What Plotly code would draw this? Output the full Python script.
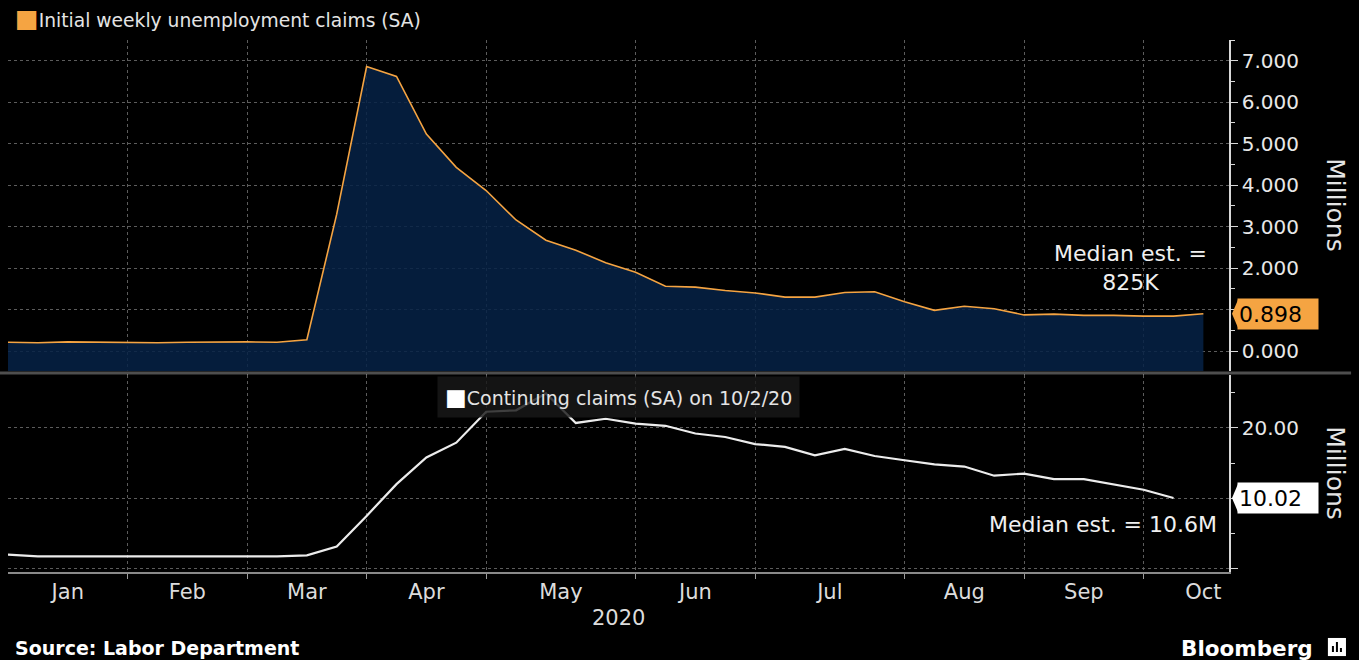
import pandas as pd
import plotly.graph_objects as go
from plotly.subplots import make_subplots

# Weekly observations, plotted on Fridays the way the terminal does
dates = pd.date_range("2020-01-03", periods=41, freq="7D")

# Initial weekly unemployment claims (SA), millions
initial_claims = [0.21, 0.20, 0.22, 0.21, 0.20, 0.20, 0.21, 0.22, 0.22, 0.21, 0.27,
                  3.30, 6.86, 6.62, 5.23, 4.43, 3.87, 3.16, 2.67, 2.43, 2.13,
                  1.90, 1.56, 1.54, 1.46, 1.40, 1.30, 1.30, 1.41, 1.43, 1.19,
                  0.98, 1.08, 1.02, 0.87, 0.89, 0.86, 0.86, 0.84, 0.84, 0.898]

# Continuing claims (SA), millions - one week behind
continuing_claims = [1.96, 1.73, 1.73, 1.73, 1.73, 1.73, 1.73, 1.73, 1.73, 1.73, 1.87,
                     3.13, 7.48, 12.0, 15.8, 17.9, 22.3, 22.5, 24.9, 20.7, 21.3,
                     20.6, 20.3, 19.2, 18.7, 17.7, 17.3, 16.1, 17.0, 16.0, 15.4,
                     14.8, 14.5, 13.2, 13.5, 12.7, 12.7, 11.9, 11.2, 10.02]

months = ["Jan", "Feb", "Mar", "Apr", "May", "Jun", "Jul", "Aug", "Sep", "Oct"]
year_label = "2020"
initial_name = "Initial weekly unemployment claims (SA)"
continuing_name = "Continuing claims (SA) on 10/2/20"
initial_note = "Median est. =<br>825K"
continuing_note = "Median est. = 10.6M"

ORANGE = "#f5a442"
GRID = "#5c5c5c"
AXIS = "#d8d8d8"
FONT = "DejaVu Sans"

# month boundaries = last observation of each month, labels sit between them
s = pd.Series(dates)
month_last = s.groupby(dates.to_period("M")).max().tolist()
bounds = [dates[0]] + month_last[:-1]
label_pos = [bounds[i] + (month_last[i] - bounds[i]) / 2 for i in range(len(months) - 1)]
label_pos.append(dates[-1])
x_range = [dates[0], dates[-1] + pd.Timedelta(days=6)]

top_range = [-0.48, 7.5]
bot_range = [-0.5, 27.5]
top_dom = [0.378, 1.0]
bot_dom = [0.0, 0.370]

fig = make_subplots(rows=2, cols=1, shared_xaxes=True, vertical_spacing=0.008)

# baseline so the area reaches the bottom of the panel
fig.add_trace(go.Scatter(x=dates, y=[top_range[0]] * len(dates), mode="lines",
                         line=dict(width=0), hoverinfo="skip", showlegend=False), row=1, col=1)
fig.add_trace(go.Scatter(x=dates, y=initial_claims, mode="lines", fill="tonexty",
                         fillcolor="rgba(6,34,70,0.86)", line=dict(color=ORANGE, width=1.6),
                         name=initial_name, showlegend=False), row=1, col=1)
fig.add_trace(go.Scatter(x=dates[:len(continuing_claims)], y=continuing_claims, mode="lines",
                         line=dict(color="#ececec", width=2.2),
                         name=continuing_name, showlegend=False), row=2, col=1)

fig.update_xaxes(range=x_range, tickmode="array", tickvals=label_pos, ticktext=months,
                 ticks="", showgrid=False, zeroline=False,
                 tickfont=dict(family=FONT, size=21, color="#dcdcdc"),
                 minor=dict(tickmode="array", tickvals=month_last[:-1], showgrid=True,
                            gridcolor=GRID, griddash="dot", gridwidth=1,
                            ticks="outside", ticklen=5, tickcolor="#9a9a9a"))
fig.update_xaxes(showticklabels=False, showline=False, row=1, col=1)
fig.update_xaxes(showline=True, linecolor="#8a8a8a", linewidth=1.5, row=2, col=1)

yax = dict(side="right", showline=True, linecolor=AXIS, linewidth=1.5, zeroline=False,
           ticks="outside", ticklen=7, tickcolor=AXIS, gridcolor=GRID, griddash="dot",
           tickfont=dict(family=FONT, size=20, color="#e8e8e8"), tickmode="array")

# tick labels hidden where the last-value tag sits
top_ticks = list(range(0, 8))
fig.update_yaxes(range=top_range, domain=top_dom, tickvals=top_ticks,
                 ticktext=["" if abs(v - initial_claims[-1]) < 0.5 else f"{v:.3f}" for v in top_ticks],
                 minor=dict(tick0=0, dtick=0.5, ticks="outside", ticklen=4, tickcolor=AXIS,
                            showgrid=False),
                 row=1, col=1, **yax)
bot_ticks = [0, 10, 20]
fig.update_yaxes(range=bot_range, domain=bot_dom, tickvals=bot_ticks,
                 ticktext=["" if v == 0 or abs(v - continuing_claims[-1]) < 3 else f"{v:.2f}"
                           for v in bot_ticks],
                 minor=dict(tick0=0, dtick=5, ticks="outside", ticklen=4, tickcolor=AXIS,
                            showgrid=False),
                 row=2, col=1, **yax)

annotations = [
    dict(text=f"<span style='color:{ORANGE};font-size:25px'>■</span>{initial_name}",
         xref="paper", yref="paper", x=0.004, y=1.04, xanchor="left", yanchor="middle",
         showarrow=False, font=dict(family=FONT, size=18.7, color="#e4e4e4")),
    dict(text=f"<span style='color:#ffffff;font-size:23px'>■</span>{continuing_name}",
         xref="paper", yref="y2 domain", x=0.5, y=0.89, xanchor="center", yanchor="middle",
         showarrow=False, bgcolor="rgba(24,24,24,0.82)", borderpad=7,
         font=dict(family=FONT, size=19, color="#e4e4e4")),
    dict(text=initial_note, xref="paper", yref="y", x=0.919, y=2.0, showarrow=False,
         xanchor="center", yanchor="middle", align="center",
         font=dict(family=FONT, size=22, color="#f0f0f0")),
    dict(text=continuing_note, xref="paper", yref="y2", x=0.992, y=6.3, showarrow=False,
         xanchor="right", yanchor="middle",
         font=dict(family=FONT, size=22, color="#f0f0f0")),
    # last-value tags on the axes
    dict(text=f"{initial_claims[-1]:.3f}", xref="paper", yref="y", x=1, y=initial_claims[-1],
         xanchor="left", yanchor="middle", xshift=8, showarrow=False, width=78, height=28,
         align="left", bgcolor=ORANGE, font=dict(family=FONT, size=22, color="#000000")),
    dict(text=f"{continuing_claims[-1]:.2f}", xref="paper", yref="y2", x=1, y=continuing_claims[-1],
         xanchor="left", yanchor="middle", xshift=8, showarrow=False, width=78, height=28,
         align="left", bgcolor="#ffffff", font=dict(family=FONT, size=22, color="#000000")),
    dict(text="Millions", xref="paper", yref="y domain", x=1.087, y=0.5, textangle=90,
         showarrow=False, xanchor="center", yanchor="middle",
         font=dict(family=FONT, size=25, color="#e4e4e4")),
    dict(text="Millions", xref="paper", yref="y2 domain", x=1.087, y=0.5, textangle=90,
         showarrow=False, xanchor="center", yanchor="middle",
         font=dict(family=FONT, size=25, color="#e4e4e4")),
    dict(text=year_label, xref="x", yref="paper", x=x_range[0] + (x_range[1] - x_range[0]) / 2,
         y=-0.087, showarrow=False, xanchor="center", yanchor="middle",
         font=dict(family=FONT, size=21, color="#dcdcdc")),
    dict(text="<b>Source: Labor Department</b>", xref="paper", yref="paper", x=0.004, y=-0.143,
         xanchor="left", yanchor="middle", showarrow=False,
         font=dict(family=FONT, size=19, color="#ffffff")),
    dict(text="<b>Bloomberg</b>", xref="paper", yref="paper", x=1.0705, y=-0.143,
         xanchor="right", yanchor="middle", showarrow=False,
         font=dict(family=FONT, size=21.5, color="#ffffff")),
]

shapes = [
    # grey band splitting the two panels, runs under the axis area too
    dict(type="line", xref="paper", yref="paper", x0=-0.01, x1=1.1,
         y0=(top_dom[0] + bot_dom[1]) / 2, y1=(top_dom[0] + bot_dom[1]) / 2,
         line=dict(color="#4e4e4e", width=3)),
    # tag pointers
    dict(type="path", xref="paper", yref="y", xsizemode="pixel", ysizemode="pixel",
         xanchor=1, yanchor=initial_claims[-1], path="M 3 0 L 9 14 L 9 -14 Z",
         fillcolor=ORANGE, line=dict(width=0)),
    dict(type="path", xref="paper", yref="y2", xsizemode="pixel", ysizemode="pixel",
         xanchor=1, yanchor=continuing_claims[-1], path="M 3 0 L 9 14 L 9 -14 Z",
         fillcolor="#ffffff", line=dict(width=0)),
    # logo badge
    dict(type="rect", xref="paper", yref="paper", x0=1.081, x1=1.0958, y0=-0.158, y1=-0.124,
         fillcolor="#ffffff", line=dict(width=0)),
    dict(type="path", xref="paper", yref="paper", xsizemode="pixel", ysizemode="pixel",
         xanchor=1.0884, yanchor=-0.141,
         path="M -5 -5 L -5 1 L -3 1 L -3 -5 Z M -1 -5 L -1 5 L 1 5 L 1 -5 Z M 3 -5 L 3 -1 L 5 -1 L 5 -5 Z",
         fillcolor="#000000", line=dict(width=0)),
]

fig.update_layout(width=1359, height=660, paper_bgcolor="#000000", plot_bgcolor="#000000",
                  margin=dict(l=8, r=130, t=40, b=88), showlegend=False,
                  annotations=annotations, shapes=shapes,
                  font=dict(family=FONT, color="#e4e4e4"))

# drop the browser's default page margin so the figure sits at the top-left corner
fig.write_html("out.html", config={"displayModeBar": False},
               post_script="document.body.style.margin='0';document.body.style.background='#000';")
